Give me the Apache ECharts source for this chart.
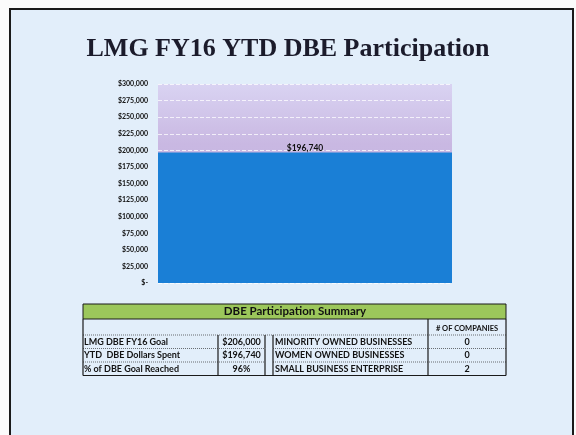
<!DOCTYPE html>
<html>
<head>
<meta charset="utf-8">
<script src="https://cdn.jsdelivr.net/npm/echarts@6/dist/echarts.min.js"></script>
<style>
  html, body { margin: 0; padding: 0; background: #fbfbfb; }
  #contain { width: 576px; height: 435px; }
</style>
</head>
<body>
<div id="contain"></div>
<script>
// chart data
var categories = ['YTD DBE Dollars Spent'];
var spentValues = [196740];
var yMin = 0, yMax = 300000, yStep = 25000;

// summary table data
var summaryTitle = 'DBE Participation Summary';
var countHeader = '# OF COMPANIES';
var summaryLabels = ['LMG DBE FY16 Goal', 'YTD  DBE Dollars Spent', '% of DBE Goal Reached'];
var summaryValues = ['$206,000', '$196,740', '96%'];
var businessTypes = ['MINORITY OWNED BUSINESSES', 'WOMEN OWNED BUSINESSES', 'SMALL BUSINESS ENTERPRISE'];
var companyCounts = [0, 0, 2];

/*金额格式*/
function money(v) {
    if (v === 0) return '$-';
    return '$' + v.toLocaleString('en-US');
}

/*表格*/
function buildTable() {
    var els = [];
    var x0 = 83, x1 = 218, x2 = 265, x3 = 273, x4 = 428, x5 = 506;
    var yTop = 304, yGreen = 319, yHead = 335, rowH = 13.5;
    var yEnd = yHead + rowH * summaryLabels.length;
    var font = 'Lato, "Open Sans", sans-serif';
    var line = function (xa, ya, xb, yb, w, dash) {
        els.push({
            type: 'line',
            shape: {x1: xa, y1: ya, x2: xb, y2: yb},
            style: {stroke: '#1a1a1a', lineWidth: w, lineDash: dash || null}
        });
    };
    var text = function (str, x, y, align, size, weight) {
        els.push({
            type: 'text', x: x, y: y,
            style: {
                text: str, fill: '#111', font: weight + ' ' + size + 'px ' + font,
                align: align, verticalAlign: 'middle'
            }
        });
    };
    els.push({
        type: 'rect', shape: {x: x0, y: yTop, width: x5 - x0, height: yGreen - yTop},
        style: {fill: '#9cc75b', stroke: '#1a1a1a', lineWidth: 1}
    });
    text(summaryTitle, 295, (yTop + yGreen) / 2, 'center', 11.5, 'bold');
    text(countHeader, (x4 + x5) / 2, (yGreen + yHead) / 2 + 2, 'center', 7.5, 'bold');
    line(x0, yGreen, x0, yEnd, 1.2);
    line(x5, yGreen, x5, yEnd, 1.2);
    line(x4, yGreen, x4, yEnd, 1.2);
    line(x0, yEnd, x5, yEnd, 1.2);
    line(x0, yHead, x5, yHead, 0.6, [1, 1]);
    for (var i = 0; i < summaryLabels.length; i++) {
        var ya = yHead + rowH * i, yc = ya + rowH / 2;
        line(x1, ya, x1, ya + rowH, 1.2);
        line(x2, ya, x2, ya + rowH, 1.2);
        line(x3, ya, x3, ya + rowH, 1.2);
        if (i > 0) {
            line(x0, ya, x2, ya, 0.6, [1, 1]);
            line(x3, ya, x5, ya, 0.6, [1, 1]);
        }
        text(summaryLabels[i], x0 + 1, yc, 'left', 9, 'bold');
        text(summaryValues[i], (x1 + x2) / 2, yc, 'center', 9, 'bold');
        text(businessTypes[i], x3 + 2, yc, 'left', 9, 'bold');
        text(String(companyCounts[i]), (x4 + x5) / 2, yc, 'center', 9, 'bold');
    }
    return els;
}

var myChart = echarts.init(document.getElementById('contain'));
myChart.setOption({
    backgroundColor: '#fbfbfb',
    title: {
        text: 'LMG FY16 YTD DBE Participation',
        left: 'center',
        top: 31,
        textStyle: {
            fontFamily: '"Liberation Serif", "DejaVu Serif", serif',
            fontWeight: 'bold',
            fontSize: 26,
            color: '#1b1b2b'
        }
    },
    graphic: [
        {
            type: 'rect', z: -10,
            shape: {x: 10, y: 9, width: 563, height: 440},
            style: {fill: '#e2eefa', stroke: '#1a1a1a', lineWidth: 2}
        }
    ].concat(buildTable()),
    grid: {
        left: 158, right: 124, top: 84, bottom: 152,
        show: true, borderWidth: 0,
        backgroundColor: {
            type: 'linear', x: 0, y: 0, x2: 0, y2: 1,
            colorStops: [
                {offset: 0, color: '#d9d3f2'},
                {offset: 0.3, color: '#c9b8e2'},
                {offset: 1, color: '#c0aee0'}
            ]
        }
    },
    xAxis: {
        type: 'category',
        data: categories,
        axisLine: {show: false},
        axisTick: {show: false},
        axisLabel: {show: false}
    },
    yAxis: {
        type: 'value',
        min: yMin, max: yMax, interval: yStep,
        axisLine: {show: false},
        axisTick: {show: false},
        axisLabel: {
            formatter: money,
            fontSize: 7,
            fontWeight: 'bold',
            fontFamily: 'Lato, "Open Sans", sans-serif',
            color: '#111',
            margin: 10
        },
        splitLine: {lineStyle: {color: 'rgba(255,255,255,0.75)', type: 'dashed', width: 1}}
    },
    series: [{
        name: 'Spent',
        type: 'bar',
        data: spentValues,
        barWidth: '100%',
        itemStyle: {color: '#1a7fd6'},
        label: {
            show: true,
            position: 'top',
            distance: 0,
            formatter: function (p) { return money(p.value); },
            fontSize: 8.5,
            fontWeight: 'bold',
            fontFamily: 'Lato, "Open Sans", sans-serif',
            color: '#111'
        }
    }]
});
</script>
</body>
</html>
